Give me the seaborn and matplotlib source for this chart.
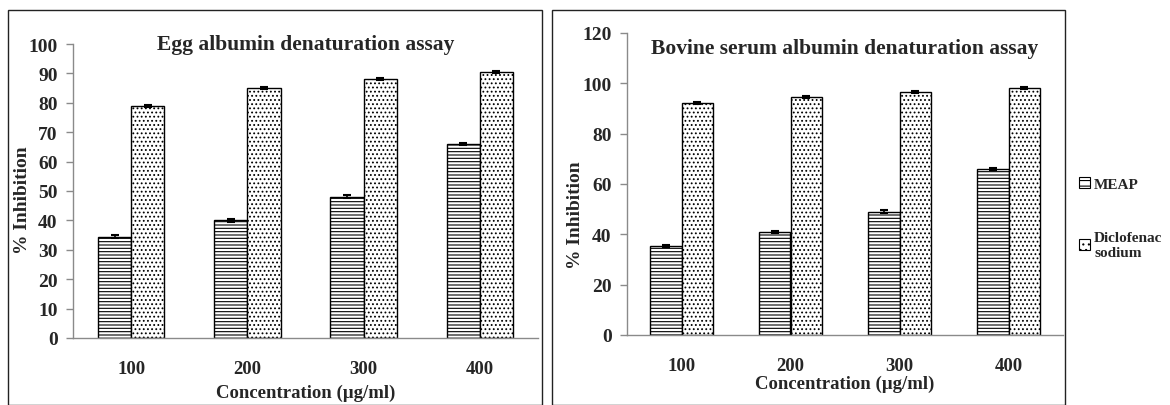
import numpy as np
import pandas as pd
import matplotlib
matplotlib.use("Agg")
import matplotlib.pyplot as plt
import seaborn as sns
from matplotlib.patches import Rectangle, Patch

# ---------------- data ----------------
concentrations = ["100", "200", "300", "400"]
series_names = ["MEAP", "Diclofenac sodium"]

egg_meap = [34.5, 40.0, 48.0, 66.0]
egg_diclo = [79.0, 85.0, 88.0, 90.5]
egg_meap_err = [0.5, 0.4, 0.5, 0.3]
egg_diclo_err = [0.4, 0.4, 0.4, 0.4]

bsa_meap = [35.5, 41.0, 49.0, 66.0]
bsa_diclo = [92.0, 94.5, 96.5, 98.0]
bsa_meap_err = [0.4, 0.4, 0.5, 0.4]
bsa_diclo_err = [0.4, 0.4, 0.4, 0.4]

egg_title = "Egg albumin denaturation assay"
bsa_title = "Bovine serum albumin denaturation assay"
xlabel = "Concentration (\u00b5g/ml)"
ylabel = "% Inhibition"

# ---------------- style ----------------
sns.set_theme(style="white")
plt.rcParams["font.family"] = ["Liberation Serif", "DejaVu Serif"]
plt.rcParams["font.weight"] = "bold"
plt.rcParams["hatch.linewidth"] = 0.8
plt.rcParams["hatch.color"] = "black"

AX_GRAY = "#8a8a8a"
hatches = ["-----", "...."]

fig = plt.figure(figsize=(11.7, 4.06), dpi=100)
W, H = 1170, 406

# panel frames
fig.add_artist(Rectangle((8 / W, 0), (542 - 8) / W, (H - 11) / H,
                         transform=fig.transFigure, fill=False,
                         edgecolor="#222222", linewidth=1.0))
fig.add_artist(Rectangle((552 / W, 0), (1065 - 552) / W, (H - 11) / H,
                         transform=fig.transFigure, fill=False,
                         edgecolor="#222222", linewidth=1.0))


def make_df(a, b):
    return pd.DataFrame({
        "Concentration": concentrations * 2,
        "Inhibition": list(a) + list(b),
        "Series": [series_names[0]] * 4 + [series_names[1]] * 4,
    })


def draw_panel(ax, meap, diclo, meap_err, diclo_err, ymax, ystep, title,
               title_y, xlabel_pad):
    df = make_df(meap, diclo)
    sns.barplot(data=df, x="Concentration", y="Inhibition", hue="Series",
                order=concentrations, hue_order=series_names,
                palette=["white", "white"], edgecolor="black", linewidth=1.0,
                width=0.57, errorbar=None, legend=False, ax=ax)
    errs = [meap_err, diclo_err]
    for cont, h, e in zip(ax.containers, hatches, errs):
        xs, ys = [], []
        for bar in cont:
            bar.set_hatch(h)
            bar.set_facecolor("white")
            xs.append(bar.get_x() + bar.get_width() / 2)
            ys.append(bar.get_height())
        ax.errorbar(xs, ys, yerr=e, fmt="none", ecolor="black",
                    elinewidth=1.2, capsize=3, capthick=1.5, zorder=5)
    ax.set_xlim(-0.5, 3.5)
    ax.set_ylim(0, ymax)
    ax.set_yticks(np.arange(0, ymax + 1, ystep))
    ax.set_yticklabels([str(int(v)) for v in np.arange(0, ymax + 1, ystep)],
                       fontsize=14, fontweight="bold")
    ax.set_xticks(range(4))
    ax.set_xticklabels(concentrations, fontsize=13.5, fontweight="bold")
    ax.set_xticks([-0.5, 0.5, 1.5, 2.5, 3.5], minor=True)
    ax.tick_params(axis="x", which="major", length=0, pad=16)
    ax.tick_params(axis="x", which="minor", length=5, color=AX_GRAY,
                   direction="out", width=1)
    ax.tick_params(axis="y", which="major", length=5, color=AX_GRAY,
                   direction="out", width=1, pad=6, left=True)
    sns.despine(ax=ax)
    for s in ["left", "bottom"]:
        ax.spines[s].set_color(AX_GRAY)
        ax.spines[s].set_linewidth(1.0)
    ax.set_xlabel(xlabel, fontsize=13.5, fontweight="bold", labelpad=xlabel_pad)
    ax.set_ylabel(ylabel, fontsize=14, fontweight="bold")
    ax.text(0.5, title_y, title, transform=ax.transAxes, ha="center",
            va="center", fontsize=15.5, fontweight="bold")
    ax.grid(False)


# left axes
axL = fig.add_axes([73 / W, (H - 339) / H, 465 / W, (339 - 45) / H])
draw_panel(axL, egg_meap, egg_diclo, egg_meap_err, egg_diclo_err,
           100, 10, egg_title, (339 - 45) / (339 - 45), 5)
axL.yaxis.set_label_coords((31 - 73) / 465, (339 - 200) / (339 - 45))

# right axes
axR = fig.add_axes([627 / W, (H - 336) / H, 436 / W, (336 - 34) / H])
draw_panel(axR, bsa_meap, bsa_diclo, bsa_meap_err, bsa_diclo_err,
           120, 20, bsa_title, (336 - 49) / (336 - 34), 0)
axR.yaxis.set_label_coords((584 - 627) / 436, (336 - 215) / (336 - 34))

# legend
handles = [Patch(facecolor="white", edgecolor="black", hatch="---", linewidth=0.8),
           Patch(facecolor="white", edgecolor="black", hatch="...", linewidth=0.8)]
fig.legend(handles, ["MEAP", "Diclofenac\nsodium"], loc="center left",
           bbox_to_anchor=(1079 / W, 1 - 219 / H), frameon=False,
           prop={"family": "Liberation Serif", "weight": "bold", "size": 11},
           handlelength=0.75, handleheight=0.75, handletextpad=0.25,
           labelspacing=2.6, borderaxespad=0, borderpad=0)

fig.savefig("out.png", dpi=100)
